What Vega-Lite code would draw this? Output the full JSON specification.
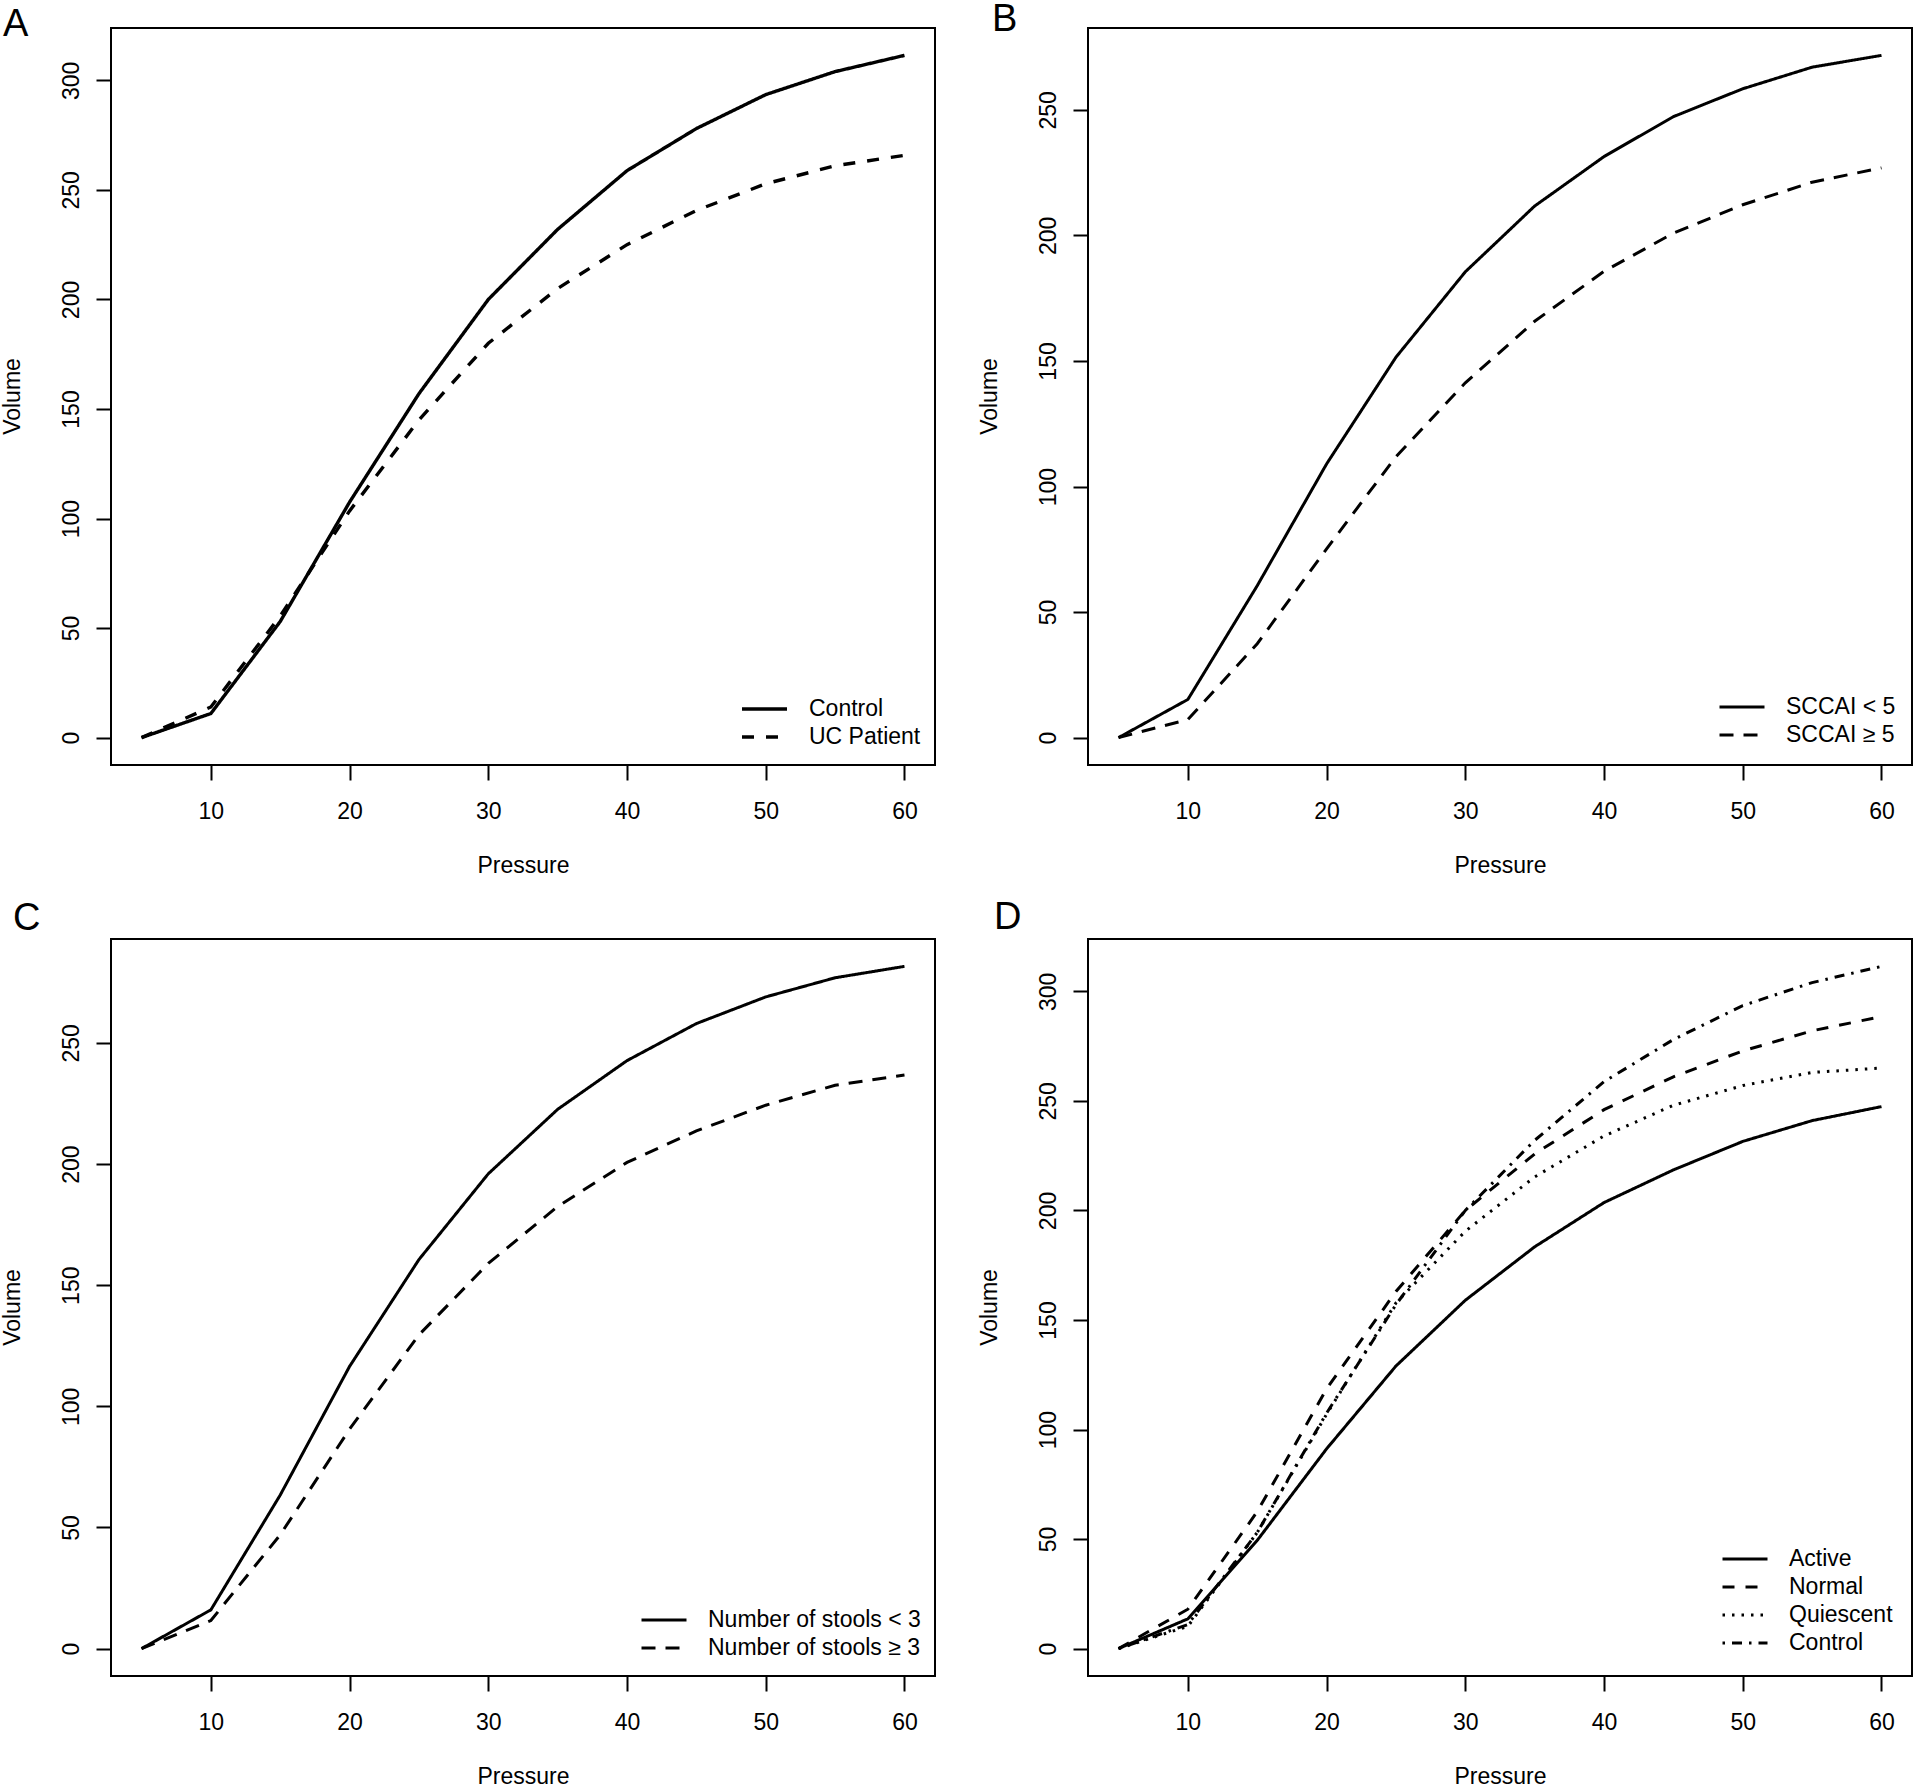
{
  "$schema": "https://vega.github.io/schema/vega-lite/v6.json",
  "background": "white",
  "padding": {"left": 0, "top": 0, "right": 0, "bottom": 0},
  "bounds": "flush",
  "columns": 2,
  "spacing": {"row": 174, "column": 153},
  "resolve": {"scale": {"strokeDash": "independent", "x": "independent", "y": "independent"}, "legend": {"strokeDash": "independent"}, "axis": {"x": "independent", "y": "independent"}},
  "data": {
    "values": [
      {"panel": "A", "group": "Control", "pressure": 5, "volume": 0},
      {"panel": "A", "group": "Control", "pressure": 10, "volume": 11},
      {"panel": "A", "group": "Control", "pressure": 15, "volume": 53},
      {"panel": "A", "group": "Control", "pressure": 20, "volume": 107.5},
      {"panel": "A", "group": "Control", "pressure": 25, "volume": 157},
      {"panel": "A", "group": "Control", "pressure": 30, "volume": 200},
      {"panel": "A", "group": "Control", "pressure": 35, "volume": 232},
      {"panel": "A", "group": "Control", "pressure": 40, "volume": 258.8},
      {"panel": "A", "group": "Control", "pressure": 45, "volume": 278},
      {"panel": "A", "group": "Control", "pressure": 50, "volume": 293.5},
      {"panel": "A", "group": "Control", "pressure": 55, "volume": 304},
      {"panel": "A", "group": "Control", "pressure": 60, "volume": 311.4},
      {"panel": "A", "group": "UC Patient", "pressure": 5, "volume": 0},
      {"panel": "A", "group": "UC Patient", "pressure": 10, "volume": 14},
      {"panel": "A", "group": "UC Patient", "pressure": 15, "volume": 55.5},
      {"panel": "A", "group": "UC Patient", "pressure": 20, "volume": 103.5},
      {"panel": "A", "group": "UC Patient", "pressure": 25, "volume": 145},
      {"panel": "A", "group": "UC Patient", "pressure": 30, "volume": 180},
      {"panel": "A", "group": "UC Patient", "pressure": 35, "volume": 205},
      {"panel": "A", "group": "UC Patient", "pressure": 40, "volume": 225},
      {"panel": "A", "group": "UC Patient", "pressure": 45, "volume": 240.6},
      {"panel": "A", "group": "UC Patient", "pressure": 50, "volume": 252.8},
      {"panel": "A", "group": "UC Patient", "pressure": 55, "volume": 261},
      {"panel": "A", "group": "UC Patient", "pressure": 60, "volume": 265.8},
      {"panel": "B", "group": "SCCAI < 5", "pressure": 5, "volume": 0},
      {"panel": "B", "group": "SCCAI < 5", "pressure": 10, "volume": 15.2},
      {"panel": "B", "group": "SCCAI < 5", "pressure": 15, "volume": 60.5},
      {"panel": "B", "group": "SCCAI < 5", "pressure": 20, "volume": 109},
      {"panel": "B", "group": "SCCAI < 5", "pressure": 25, "volume": 151.5},
      {"panel": "B", "group": "SCCAI < 5", "pressure": 30, "volume": 185.5},
      {"panel": "B", "group": "SCCAI < 5", "pressure": 35, "volume": 211.7},
      {"panel": "B", "group": "SCCAI < 5", "pressure": 40, "volume": 231.4},
      {"panel": "B", "group": "SCCAI < 5", "pressure": 45, "volume": 247.3},
      {"panel": "B", "group": "SCCAI < 5", "pressure": 50, "volume": 258.4},
      {"panel": "B", "group": "SCCAI < 5", "pressure": 55, "volume": 267},
      {"panel": "B", "group": "SCCAI < 5", "pressure": 60, "volume": 271.7},
      {"panel": "B", "group": "SCCAI ≥ 5", "pressure": 5, "volume": 0},
      {"panel": "B", "group": "SCCAI ≥ 5", "pressure": 10, "volume": 7.2},
      {"panel": "B", "group": "SCCAI ≥ 5", "pressure": 15, "volume": 37.4},
      {"panel": "B", "group": "SCCAI ≥ 5", "pressure": 20, "volume": 75.2},
      {"panel": "B", "group": "SCCAI ≥ 5", "pressure": 25, "volume": 111.9},
      {"panel": "B", "group": "SCCAI ≥ 5", "pressure": 30, "volume": 141.3},
      {"panel": "B", "group": "SCCAI ≥ 5", "pressure": 35, "volume": 165.8},
      {"panel": "B", "group": "SCCAI ≥ 5", "pressure": 40, "volume": 185.7},
      {"panel": "B", "group": "SCCAI ≥ 5", "pressure": 45, "volume": 200.9},
      {"panel": "B", "group": "SCCAI ≥ 5", "pressure": 50, "volume": 212.2},
      {"panel": "B", "group": "SCCAI ≥ 5", "pressure": 55, "volume": 221.2},
      {"panel": "B", "group": "SCCAI ≥ 5", "pressure": 60, "volume": 226.9},
      {"panel": "C", "group": "Number of stools < 3", "pressure": 5, "volume": 0},
      {"panel": "C", "group": "Number of stools < 3", "pressure": 10, "volume": 16},
      {"panel": "C", "group": "Number of stools < 3", "pressure": 15, "volume": 63.4},
      {"panel": "C", "group": "Number of stools < 3", "pressure": 20, "volume": 116.5},
      {"panel": "C", "group": "Number of stools < 3", "pressure": 25, "volume": 160.6},
      {"panel": "C", "group": "Number of stools < 3", "pressure": 30, "volume": 196},
      {"panel": "C", "group": "Number of stools < 3", "pressure": 35, "volume": 222.6},
      {"panel": "C", "group": "Number of stools < 3", "pressure": 40, "volume": 242.7},
      {"panel": "C", "group": "Number of stools < 3", "pressure": 45, "volume": 258},
      {"panel": "C", "group": "Number of stools < 3", "pressure": 50, "volume": 269},
      {"panel": "C", "group": "Number of stools < 3", "pressure": 55, "volume": 276.9},
      {"panel": "C", "group": "Number of stools < 3", "pressure": 60, "volume": 281.6},
      {"panel": "C", "group": "Number of stools ≥ 3", "pressure": 5, "volume": 0},
      {"panel": "C", "group": "Number of stools ≥ 3", "pressure": 10, "volume": 11.6},
      {"panel": "C", "group": "Number of stools ≥ 3", "pressure": 15, "volume": 47},
      {"panel": "C", "group": "Number of stools ≥ 3", "pressure": 20, "volume": 90.6},
      {"panel": "C", "group": "Number of stools ≥ 3", "pressure": 25, "volume": 129.5},
      {"panel": "C", "group": "Number of stools ≥ 3", "pressure": 30, "volume": 159},
      {"panel": "C", "group": "Number of stools ≥ 3", "pressure": 35, "volume": 182.5},
      {"panel": "C", "group": "Number of stools ≥ 3", "pressure": 40, "volume": 200.7},
      {"panel": "C", "group": "Number of stools ≥ 3", "pressure": 45, "volume": 213.7},
      {"panel": "C", "group": "Number of stools ≥ 3", "pressure": 50, "volume": 224.3},
      {"panel": "C", "group": "Number of stools ≥ 3", "pressure": 55, "volume": 232.5},
      {"panel": "C", "group": "Number of stools ≥ 3", "pressure": 60, "volume": 236.8},
      {"panel": "D", "group": "Active", "pressure": 5, "volume": 0},
      {"panel": "D", "group": "Active", "pressure": 10, "volume": 13.6},
      {"panel": "D", "group": "Active", "pressure": 15, "volume": 49.4},
      {"panel": "D", "group": "Active", "pressure": 20, "volume": 91.2},
      {"panel": "D", "group": "Active", "pressure": 25, "volume": 129},
      {"panel": "D", "group": "Active", "pressure": 30, "volume": 159},
      {"panel": "D", "group": "Active", "pressure": 35, "volume": 183.4},
      {"panel": "D", "group": "Active", "pressure": 40, "volume": 203.6},
      {"panel": "D", "group": "Active", "pressure": 45, "volume": 218.5},
      {"panel": "D", "group": "Active", "pressure": 50, "volume": 231.5},
      {"panel": "D", "group": "Active", "pressure": 55, "volume": 241},
      {"panel": "D", "group": "Active", "pressure": 60, "volume": 247.4},
      {"panel": "D", "group": "Normal", "pressure": 5, "volume": 0},
      {"panel": "D", "group": "Normal", "pressure": 10, "volume": 18},
      {"panel": "D", "group": "Normal", "pressure": 15, "volume": 62.5},
      {"panel": "D", "group": "Normal", "pressure": 20, "volume": 118.6},
      {"panel": "D", "group": "Normal", "pressure": 25, "volume": 163},
      {"panel": "D", "group": "Normal", "pressure": 30, "volume": 200},
      {"panel": "D", "group": "Normal", "pressure": 35, "volume": 225.8},
      {"panel": "D", "group": "Normal", "pressure": 40, "volume": 246},
      {"panel": "D", "group": "Normal", "pressure": 45, "volume": 261},
      {"panel": "D", "group": "Normal", "pressure": 50, "volume": 272.8},
      {"panel": "D", "group": "Normal", "pressure": 55, "volume": 282},
      {"panel": "D", "group": "Normal", "pressure": 60, "volume": 288.5},
      {"panel": "D", "group": "Quiescent", "pressure": 5, "volume": 0},
      {"panel": "D", "group": "Quiescent", "pressure": 10, "volume": 10.2},
      {"panel": "D", "group": "Quiescent", "pressure": 15, "volume": 53},
      {"panel": "D", "group": "Quiescent", "pressure": 20, "volume": 107},
      {"panel": "D", "group": "Quiescent", "pressure": 25, "volume": 157.8},
      {"panel": "D", "group": "Quiescent", "pressure": 30, "volume": 190.5},
      {"panel": "D", "group": "Quiescent", "pressure": 35, "volume": 215.3},
      {"panel": "D", "group": "Quiescent", "pressure": 40, "volume": 234},
      {"panel": "D", "group": "Quiescent", "pressure": 45, "volume": 248},
      {"panel": "D", "group": "Quiescent", "pressure": 50, "volume": 257},
      {"panel": "D", "group": "Quiescent", "pressure": 55, "volume": 263},
      {"panel": "D", "group": "Quiescent", "pressure": 60, "volume": 265},
      {"panel": "D", "group": "Control", "pressure": 5, "volume": 0},
      {"panel": "D", "group": "Control", "pressure": 10, "volume": 11},
      {"panel": "D", "group": "Control", "pressure": 15, "volume": 53},
      {"panel": "D", "group": "Control", "pressure": 20, "volume": 107.5},
      {"panel": "D", "group": "Control", "pressure": 25, "volume": 157},
      {"panel": "D", "group": "Control", "pressure": 30, "volume": 200},
      {"panel": "D", "group": "Control", "pressure": 35, "volume": 232},
      {"panel": "D", "group": "Control", "pressure": 40, "volume": 258.8},
      {"panel": "D", "group": "Control", "pressure": 45, "volume": 278},
      {"panel": "D", "group": "Control", "pressure": 50, "volume": 293.5},
      {"panel": "D", "group": "Control", "pressure": 55, "volume": 304},
      {"panel": "D", "group": "Control", "pressure": 60, "volume": 311.4}
    ]
  },
  "concat": [
    {
      "width": 824, "height": 737,
      "title": {"text": "A", "anchor": "start", "frame": "group", "baseline": "alphabetic", "offset": 0, "dx": -108, "dy": 46},
      "transform": [{"filter": "datum.panel == 'A'"}],
      "mark": {"type": "line", "color": "black", "strokeWidth": 3.4},
      "encoding": {
        "x": {"field": "pressure", "type": "quantitative", "title": "Pressure", "scale": {"domain": [2.8, 62.2], "nice": false, "zero": false}, "axis": {"values": [10, 20, 30, 40, 50, 60]}},
        "y": {"field": "volume", "type": "quantitative", "title": "Volume", "scale": {"domain": [-12.5, 323.9], "nice": false, "zero": false}, "axis": {"values": [0, 50, 100, 150, 200, 250, 300]}},
        "strokeDash": {"field": "group", "type": "nominal", "scale": {"domain": ["Control", "UC Patient"], "range": [[1, 0], [12, 12]]}, "legend": {"title": null, "symbolStrokeWidth": 3.4}}
      }
    },
    {
      "width": 824, "height": 737,
      "title": {"text": "B", "anchor": "start", "frame": "group", "baseline": "alphabetic", "offset": 0, "dx": -96, "dy": 41},
      "transform": [{"filter": "datum.panel == 'B'"}],
      "mark": {"type": "line", "color": "black", "strokeWidth": 3},
      "encoding": {
        "x": {"field": "pressure", "type": "quantitative", "title": "Pressure", "scale": {"domain": [2.8, 62.2], "nice": false, "zero": false}, "axis": {"values": [10, 20, 30, 40, 50, 60]}},
        "y": {"field": "volume", "type": "quantitative", "title": "Volume", "scale": {"domain": [-10.9, 282.6], "nice": false, "zero": false}, "axis": {"values": [0, 50, 100, 150, 200, 250]}},
        "strokeDash": {"field": "group", "type": "nominal", "scale": {"domain": ["SCCAI < 5", "SCCAI ≥ 5"], "range": [[1, 0], [14, 10]]}, "legend": {"title": null, "offset": 16}}
      }
    },
    {
      "width": 824, "height": 737,
      "title": {"text": "C", "anchor": "start", "frame": "group", "baseline": "alphabetic", "offset": 0, "dx": -98, "dy": 29},
      "transform": [{"filter": "datum.panel == 'C'"}],
      "mark": {"type": "line", "color": "black", "strokeWidth": 3},
      "encoding": {
        "x": {"field": "pressure", "type": "quantitative", "title": "Pressure", "scale": {"domain": [2.8, 62.2], "nice": false, "zero": false}, "axis": {"values": [10, 20, 30, 40, 50, 60]}},
        "y": {"field": "volume", "type": "quantitative", "title": "Volume", "scale": {"domain": [-11.3, 292.9], "nice": false, "zero": false}, "axis": {"values": [0, 50, 100, 150, 200, 250]}},
        "strokeDash": {"field": "group", "type": "nominal", "scale": {"domain": ["Number of stools < 3", "Number of stools ≥ 3"], "range": [[1, 0], [14, 10]]}, "legend": {"title": null}}
      }
    },
    {
      "width": 824, "height": 737,
      "title": {"text": "D", "anchor": "start", "frame": "group", "baseline": "alphabetic", "offset": 0, "dx": -94, "dy": 28},
      "transform": [{"filter": "datum.panel == 'D'"}],
      "mark": {"type": "line", "color": "black", "strokeWidth": 3},
      "encoding": {
        "x": {"field": "pressure", "type": "quantitative", "title": "Pressure", "scale": {"domain": [2.8, 62.2], "nice": false, "zero": false}, "axis": {"values": [10, 20, 30, 40, 50, 60]}},
        "y": {"field": "volume", "type": "quantitative", "title": "Volume", "scale": {"domain": [-12.5, 323.9], "nice": false, "zero": false}, "axis": {"values": [0, 50, 100, 150, 200, 250, 300]}},
        "strokeDash": {"field": "group", "type": "nominal", "scale": {"domain": ["Active", "Normal", "Quiescent", "Control"], "range": [[1, 0], [12, 11], [2.5, 7], [2.5, 7, 10, 7]]}, "legend": {"title": null, "offset": 19}}
      }
    }
  ],
  "config": {
    "font": "Liberation Sans",
    "view": {"stroke": "black", "strokeWidth": 2},
    "title": {"font": "Liberation Sans", "fontSize": 38, "fontWeight": "normal", "color": "black"},
    "axis": {
      "domain": false, "grid": false, "ticks": true, "tickSize": 15, "tickWidth": 2, "tickColor": "black",
      "labelFont": "Liberation Sans", "labelFontSize": 23, "labelColor": "black", "labelFlush": false, "labelOverlap": false, "labelBound": false,
      "titleFont": "Liberation Sans", "titleFontSize": 23, "titleFontWeight": "normal", "titleColor": "black"
    },
    "axisY": {"labelAngle": -90, "labelAlign": "center", "labelBaseline": "alphabetic", "labelPadding": 18, "titleAngle": -90, "titleX": -99, "titleY": 368, "titleAlign": "center", "titleBaseline": "middle"},
    "axisX": {"labelAngle": 0, "labelAlign": "center", "labelBaseline": "top", "labelPadding": 20, "titleX": 412, "titleY": 100, "titleAlign": "center", "titleBaseline": "middle"},
    "legend": {"orient": "bottom-right", "offset": 14, "padding": 0, "symbolType": "stroke", "symbolSize": 2025, "symbolStrokeWidth": 3, "symbolStrokeColor": "black", "labelFont": "Liberation Sans", "labelFontSize": 23, "labelColor": "black", "labelOffset": 20, "rowPadding": 0, "clipHeight": 28, "labelLimit": 400}
  }
}
